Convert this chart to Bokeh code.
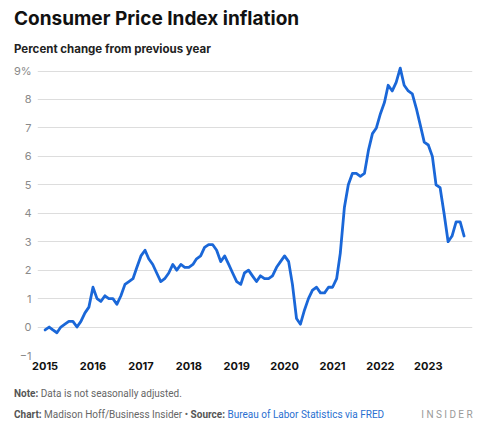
import pandas as pd
from bokeh.plotting import figure
from bokeh.layouts import column
from bokeh.models import Range1d, FixedTicker, DatetimeTickFormatter, Div
from bokeh.embed import file_html
from bokeh.resources import INLINE

# ---- data: CPI, percent change from previous year (monthly) ----
start_month = "2015-01-01"
cpi_2015 = [-0.1, 0.0, -0.1, -0.2, 0.0, 0.1, 0.2, 0.2, 0.0, 0.2, 0.5, 0.7]
cpi_2016 = [1.4, 1.0, 0.9, 1.1, 1.0, 1.0, 0.8, 1.1, 1.5, 1.6, 1.7, 2.1]
cpi_2017 = [2.5, 2.7, 2.4, 2.2, 1.9, 1.6, 1.7, 1.9, 2.2, 2.0, 2.2, 2.1]
cpi_2018 = [2.1, 2.2, 2.4, 2.5, 2.8, 2.9, 2.9, 2.7, 2.3, 2.5, 2.2, 1.9]
cpi_2019 = [1.6, 1.5, 1.9, 2.0, 1.8, 1.6, 1.8, 1.7, 1.7, 1.8, 2.1, 2.3]
cpi_2020 = [2.5, 2.3, 1.5, 0.3, 0.1, 0.6, 1.0, 1.3, 1.4, 1.2, 1.2, 1.4]
cpi_2021 = [1.4, 1.7, 2.6, 4.2, 5.0, 5.4, 5.4, 5.3, 5.4, 6.2, 6.8, 7.0]
cpi_2022 = [7.5, 7.9, 8.5, 8.3, 8.6, 9.1, 8.5, 8.3, 8.2, 7.7, 7.1, 6.5]
cpi_2023 = [6.4, 6.0, 5.0, 4.9, 4.0, 3.0, 3.2, 3.7, 3.7, 3.2]

tick_years = [2015, 2016, 2017, 2018, 2019, 2020, 2021, 2022, 2023]
y_ticks = [-1, 0, 1, 2, 3, 4, 5, 6, 7, 8, 9]

title_text = "Consumer Price Index inflation"
subtitle_text = "Percent change from previous year"
note_label, note_text = "Note:", "Data is not seasonally adjusted."
credit_label, credit_text = "Chart:", "Madison Hoff/Business Insider \u2022"
source_label, source_text = "Source:", "Bureau of Labor Statistics via FRED"
brand_text = "INSIDER"

values = (cpi_2015 + cpi_2016 + cpi_2017 + cpi_2018 + cpi_2019 +
          cpi_2020 + cpi_2021 + cpi_2022 + cpi_2023)
dates = pd.date_range(start_month, periods=len(values), freq="MS")

def ms(ts):
    return pd.Timestamp(ts).value / 1e6

W = 500
HEAD_H, MAIN_H, FOOT_H = 56, 324, 49

# header
head = Div(width=W, height=HEAD_H, text=(
    f'<div style="margin:7px 0 0 14px;padding:0;font-family:Inter;font-weight:700;'
    f'font-size:19px;line-height:24px;color:#111;white-space:nowrap">{title_text}</div>'
    f'<div style="margin:10px 0 0 14px;padding:0;font-family:Inter;font-weight:700;'
    f'font-size:11.5px;line-height:16px;color:#222;white-space:nowrap">{subtitle_text}</div>'
), styles={"margin": "0", "padding": "0"})

# main chart
p = figure(width=W, height=MAIN_H, x_axis_type="datetime",
           output_backend="svg", toolbar_location=None,
           min_border_left=37, min_border_right=28,
           min_border_top=6, min_border_bottom=25)
p.x_range = Range1d(ms("2014-11-04"), ms("2023-12-04"))
p.y_range = Range1d(-1, 9.3)
p.outline_line_color = None
p.background_fill_color = "white"
p.border_fill_color = "white"

p.line(dates, values, line_color="#1a67d8", line_width=2.8,
       line_join="round", line_cap="round")

p.xaxis.ticker = FixedTicker(ticks=[ms(f"{y}-01-01") for y in tick_years])
p.xaxis.formatter = DatetimeTickFormatter(years="%Y", months="%Y", days="%Y",
                                          hours="%Y", hourmin="%Y")
p.xaxis.axis_line_color = None
p.xaxis.major_tick_line_color = None
p.xaxis.minor_tick_line_color = None
p.xaxis.major_tick_out = 0
p.xaxis.minor_tick_out = 0
p.xaxis.major_label_text_font = "Inter"
p.xaxis.major_label_text_font_style = "bold"
p.xaxis.major_label_text_font_size = "11px"
p.xaxis.major_label_text_color = "#111111"
p.xaxis.major_label_standoff = 6

p.yaxis.ticker = FixedTicker(ticks=y_ticks)
p.yaxis.major_label_overrides = {9: "9%", -1: "\u22121"}
p.yaxis.axis_line_color = None
p.yaxis.major_tick_line_color = None
p.yaxis.minor_tick_line_color = None
p.yaxis.major_tick_out = 0
p.yaxis.minor_tick_out = 0
p.yaxis.major_label_text_font = "Inter"
p.yaxis.major_label_text_font_size = "11px"
p.yaxis.major_label_text_color = "#8a8a8a"
p.yaxis.major_label_standoff = 6

p.xgrid.grid_line_color = None
p.ygrid.grid_line_color = "#dddddd"
p.ygrid.grid_line_width = 1

# footer
row_style = ("display:flex;align-items:center;margin:0;padding:0 0 0 14px;"
             "font-family:Roboto;font-size:10px;line-height:16px;white-space:nowrap;"
             "box-sizing:border-box")
foot = Div(width=W, height=FOOT_H, text=(
    f'<div style="{row_style};margin-top:6px">'
    f'<span style="font-weight:700;color:#555">{note_label}</span>&nbsp;'
    f'<span style="color:#666">{note_text}</span></div>'
    f'<div style="{row_style};margin-top:5px;width:475px">'
    f'<span style="font-weight:700;color:#555">{credit_label}</span>&nbsp;'
    f'<span style="color:#666">{credit_text}</span>&nbsp;'
    f'<span style="font-weight:700;color:#555">{source_label}</span>&nbsp;'
    f'<span style="color:#2a6fd0">{source_text}</span>'
    f'<span style="margin-left:auto;color:#9a9a9a;font-size:10px;letter-spacing:2.4px">{brand_text}</span>'
    f'</div>'
), styles={"margin": "0", "padding": "0"})

layout = column(head, p, foot, spacing=0)
open("out.html", "w").write(file_html(layout, INLINE))
